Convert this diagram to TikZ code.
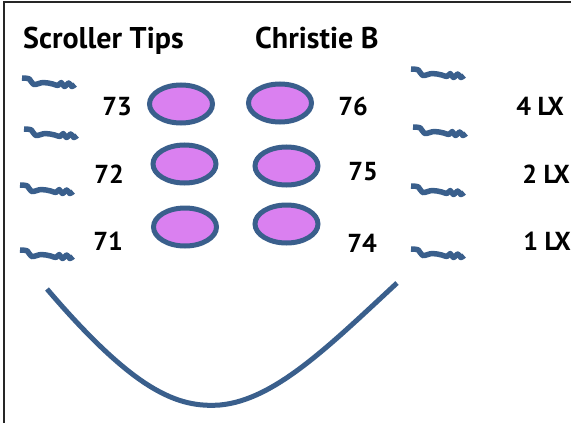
\documentclass[tikz,border=0pt]{standalone}
\usepackage{fontspec}
\setmainfont{PT Sans}
\definecolor{sq}{RGB}{58,95,140}
\definecolor{ov}{RGB}{218,128,240}
\tikzset{
  ttl/.style={font=\bfseries\fontsize{30}{32}\selectfont, text=black, inner sep=0pt},
  lbl/.style={font=\bfseries\fontsize{26}{28}\selectfont, text=black, inner sep=0pt},
  oval/.style={ellipse, draw=sq, line width=5pt, fill=ov, minimum width=63pt, minimum height=38pt, inner sep=0pt},
  wig/.pic={\draw[sq, line width=5.5pt, line cap=butt, line join=round, xscale=1.06] plot[smooth, tension=0.6] coordinates {(0,0) (7,1) (11,6.5) (20,4.5) (29,6) (34,7.5) (37,4.5) (40,8.5) (44,5) (47,8.5) (50,6.5)};}
}
\usepackage{tikz}
\usetikzlibrary{shapes.geometric}
\begin{document}
\begin{tikzpicture}[x=1pt,y=-1pt]
\useasboundingbox (0,0) rectangle (571,423);
\draw[black!85, line width=2.5pt] (4,423) -- (4,2) -- (571,2);
\node[ttl, anchor=base west] (t1) at (23,48) {Scroller Tips};
\node[ttl, anchor=base west] (t2) at (255,48) {Christie B};
% left squiggles
\pic at (22,78) {wig};
\pic at (24,129) {wig};
\pic at (20,185) {wig};
\pic at (20,250) {wig};
% right squiggles
\pic at (411,69) {wig};
\pic at (413,127) {wig};
\pic at (411,186) {wig};
\pic at (411,249) {wig};
% numbers
\node[lbl] (n73) at (117,106.5) {73};
\node[lbl] (n72) at (109,174) {72};
\node[lbl] (n71) at (108,241) {71};
\node[lbl] (n76) at (353,106.5) {76};
\node[lbl] (n75) at (363,172) {75};
\node[lbl] (n74) at (362,243) {74};
\node[lbl] (l4) at (540,106.5) {4 LX};
\node[lbl] (l2) at (546,174) {2 LX};
\node[lbl] (l1) at (547,241) {1 LX};
% ovals
\node[oval] (e1) at (181,104) {};
\node[oval] (e2) at (280,103) {};
\node[oval] (e3) at (184.5,164) {};
\node[oval] (e4) at (286.5,166) {};
\node[oval] (e5) at (185,227) {};
\node[oval] (e6) at (286.5,224) {};
% curve
\coordinate (ca) at (47,289);
\coordinate (cb) at (220,405);
\coordinate (cc) at (397,283);
\draw[sq, line width=5pt] (ca) .. controls (135,392) and (178,408) .. (cb) .. controls (275,400) and (330,345) .. (cc);
\end{tikzpicture}
\end{document}
